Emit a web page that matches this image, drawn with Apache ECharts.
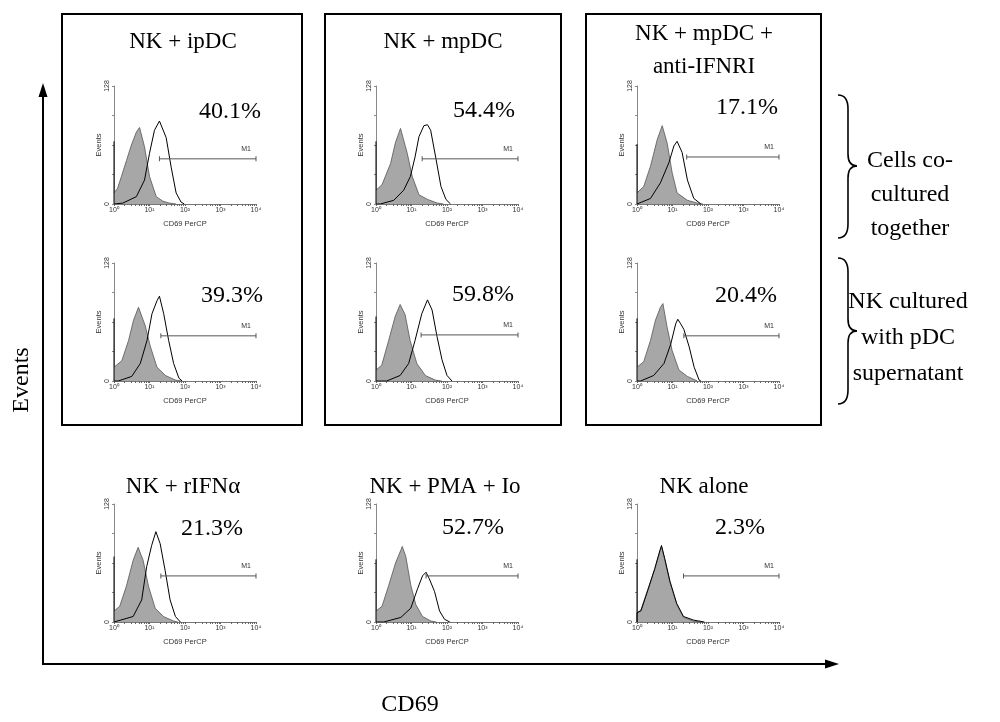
<!DOCTYPE html>
<html>
<head>
<meta charset="utf-8">
<script src="https://cdn.jsdelivr.net/npm/echarts@6/dist/echarts.min.js"></script>
<style>html,body{margin:0;padding:0;background:#fff;}#c{width:1000px;height:722px;}</style>
</head>
<body>
<div id="c"></div>
<script>
// ---- data (x in log10 decades of CD69 PerCP, y = events) ----
const xTickLabels = ['10\u2070', '10\u00b9', '10\u00b2', '10\u00b3', '10\u2074'];
const panelTitles = ['NK + ipDC', 'NK + mpDC', 'NK + mpDC +\nanti-IFNRI', '', '', '', 'NK + rIFN\u03b1', 'NK + PMA + Io', 'NK alone'];
const percentLabels = ['40.1%', '54.4%', '17.1%', '39.3%', '59.8%', '20.4%', '21.3%', '52.7%', '2.3%'];
const groupLabels = ['Cells co-\ncultured\ntogether', 'NK cultured\nwith pDC\nsupernatant'];

const ctrl1 = [[0,12],[0.1,17],[0.21,30],[0.35,47],[0.49,64],[0.63,78],[0.72,83],[0.86,62],[1.0,30],[1.19,8],[1.38,3],[1.56,1],[1.75,0]];
const samp1 = [[0,68],[0,0],[0.25,1],[0.63,8],[0.86,26],[1.0,55],[1.14,80],[1.28,90],[1.33,92],[1.47,72],[1.61,40],[1.75,12],[1.89,2],[1.98,0]];
const ctrl2 = [[0,15],[0.17,21],[0.41,44],[0.55,67],[0.69,82],[0.74,84],[0.88,55],[1.02,30],[1.21,10],[1.45,5],[1.73,1],[1.9,0]];
const samp2 = [[0,68],[0,0],[0.12,0],[0.5,4],[0.78,15],[0.97,30],[1.1,51],[1.21,73],[1.35,85],[1.45,86],[1.54,80],[1.68,51],[1.83,19],[1.97,5],[2.1,0]];
const ctrl3 = [[0,12],[0.19,19],[0.38,41],[0.57,70],[0.71,85],[0.74,86],[0.85,66],[0.99,34],[1.13,12],[1.42,4],[1.7,1],[1.85,0]];
const samp3 = [[0,65],[0,0],[0.05,0],[0.38,6],[0.66,23],[0.9,45],[1.04,63],[1.13,68],[1.16,69],[1.27,56],[1.42,26],[1.6,6],[1.8,0]];
const ctrl4 = [[0,15],[0.22,22],[0.41,44],[0.55,66],[0.69,80],[0.74,82],[0.88,60],[1.02,38],[1.21,15],[1.45,6],[1.73,1],[1.9,0]];
const samp4 = [[0,68],[0,0],[0.12,0],[0.5,5],[0.74,19],[0.93,44],[1.07,73],[1.21,87],[1.28,92],[1.4,73],[1.54,44],[1.68,19],[1.83,3],[1.92,0]];
const ctrl5 = [[0,12],[0.16,17],[0.35,43],[0.54,70],[0.68,83],[0.73,85],[0.82,72],[0.96,44],[1.15,19],[1.39,6],[1.67,1],[1.85,0]];
const samp5 = [[0,70],[0,0],[0.3,0],[0.68,6],[0.92,19],[1.1,44],[1.29,73],[1.45,88],[1.48,89],[1.58,77],[1.72,48],[1.86,23],[2.0,6],[2.14,0]];
const ctrl6 = [[0,15],[0.19,21],[0.38,44],[0.52,66],[0.66,80],[0.73,84],[0.85,58],[0.99,33],[1.18,12],[1.42,5],[1.7,0]];
const samp6 = [[0,68],[0,0],[0.1,0],[0.47,6],[0.76,19],[0.95,40],[1.09,62],[1.15,67],[1.23,62],[1.32,56],[1.47,37],[1.61,15],[1.75,1],[1.8,0]];
const ctrl7 = [[0,12],[0.16,17],[0.35,39],[0.54,67],[0.68,81],[0.71,83],[0.82,67],[0.97,39],[1.16,15],[1.39,6],[1.68,1],[1.8,0]];
const samp7 = [[0,71],[0,0],[0.05,0],[0.54,6],[0.78,24],[0.92,60],[1.06,83],[1.18,98],[1.3,85],[1.44,56],[1.58,24],[1.73,6],[1.87,0]];
const ctrl8 = [[0,12],[0.17,17],[0.36,40],[0.55,64],[0.7,78],[0.74,82],[0.84,71],[0.98,40],[1.12,19],[1.31,6],[1.55,1],[1.7,0]];
const samp8 = [[0,68],[0,0],[0.22,0],[0.7,5],[0.98,15],[1.17,36],[1.31,50],[1.41,54],[1.5,47],[1.65,33],[1.79,12],[1.93,3],[2.08,0]];
const ctrl9 = [[0,10],[0.11,13],[0.31,36],[0.5,57],[0.64,76],[0.69,82],[0.78,68],[0.93,43],[1.12,19],[1.31,5],[1.6,1],[1.79,0]];
const samp9 = [[0,68],[0,0],[0,10],[0.11,12],[0.31,35],[0.5,58],[0.64,77],[0.69,83],[0.78,69],[0.93,44],[1.12,20],[1.31,6],[1.6,2],[1.9,0]];

const controls = [ctrl1, ctrl2, ctrl3, ctrl4, ctrl5, ctrl6, ctrl7, ctrl8, ctrl9];
const samples = [samp1, samp2, samp3, samp4, samp5, samp6, samp7, samp8, samp9];
// M1 gate: start decade and height in events
const m1Start = [1.28, 1.3, 1.4, 1.32, 1.27, 1.32, 1.32, 1.41, 1.31];
const m1Level = [49, 49, 51, 49, 50, 49, 50, 50, 50];
const m1End = 4;

// ---- layout ----
const colX = [114, 376, 637];
const rowY = [86, 263, 504];
const gw = 142, gh = 118;
const pctPos = [[230,112],[484,111],[747,108],[232,296],[483,295],[746,296],[212,529],[473,528],[740,528]];
const titlePos = [[183,42],[443,42],[704,50],null,null,null,[183,487],[445,487],[704,487]];

// log minor tick positions within decades
const minorTicks = [];
for (let d = 0; d < 4; d++) { for (let k = 1; k < 10; k++) minorTicks.push(d + Math.log10(k)); }
minorTicks.push(4);

const grids = [], xAxes = [], yAxes = [], series = [];
const smallFont = 'Liberation Sans';
for (let i = 0; i < 9; i++) {
  const c = i % 3, r = Math.floor(i / 3);
  grids.push({ left: colX[c], top: rowY[r], width: gw, height: gh });
  xAxes.push({
    type: 'value', gridIndex: i, min: 0, max: 4, interval: 1,
    axisLine: { show: true, lineStyle: { color: '#777', width: 1 } },
    axisTick: { show: true, length: 2, customValues: minorTicks, lineStyle: { color: '#666' } },
    axisLabel: { fontSize: 7, color: '#333', margin: 3, fontFamily: smallFont, formatter: v => xTickLabels[Math.round(v)] },
    splitLine: { show: false },
    name: 'CD69 PerCP', nameLocation: 'middle', nameGap: 16,
    nameTextStyle: { fontSize: 7.5, color: '#333', fontFamily: smallFont }
  });
  yAxes.push({
    type: 'value', gridIndex: i, min: 0, max: 128, interval: 32,
    axisLine: { show: true, lineStyle: { color: '#888', width: 1 } },
    axisTick: { show: true, length: 2, lineStyle: { color: '#888' } },
    axisLabel: { rotate: 90, fontSize: 7, color: '#333', margin: 3, fontFamily: smallFont,
      formatter: v => (v === 0 || v === 128) ? String(v) : '' },
    splitLine: { show: false },
    name: 'Events', nameLocation: 'middle', nameGap: 11,
    nameTextStyle: { fontSize: 7.5, color: '#333', fontFamily: smallFont }
  });
  series.push({
    type: 'line', xAxisIndex: i, yAxisIndex: i, data: controls[i], symbol: 'none', z: 2,
    lineStyle: { color: '#555', width: 0.8 }, areaStyle: { color: '#a7a7a7', opacity: 1 }
  });
  series.push({
    type: 'line', xAxisIndex: i, yAxisIndex: i, data: samples[i], symbol: 'none', z: 3,
    lineStyle: { color: '#000', width: 1 }
  });
  series.push({
    type: 'line', xAxisIndex: i, yAxisIndex: i, z: 4, symbol: 'rect', symbolSize: [1, 5],
    itemStyle: { color: '#555' }, lineStyle: { color: '#555', width: 1 },
    data: [
      { value: [m1Start[i], m1Level[i]] },
      { value: [m1End, m1Level[i]], label: { show: true, position: 'top', formatter: 'M1', fontSize: 7, color: '#333', fontFamily: smallFont, offset: [-10, 1] } }
    ]
  });
}

const serif = 'Liberation Serif';
const graphics = [];
// boxes
[[62, 14, 240, 411], [325, 14, 236, 411], [586, 14, 235, 411]].forEach(b => {
  graphics.push({ type: 'rect', shape: { x: b[0], y: b[1], width: b[2], height: b[3] }, style: { fill: 'none', stroke: '#000', lineWidth: 2 } });
});
// titles
panelTitles.forEach((t, i) => {
  if (!t) return;
  graphics.push({ type: 'text', x: titlePos[i][0], y: titlePos[i][1],
    style: { text: t, font: '23px "' + serif + '"', fill: '#000', textAlign: 'center', textVerticalAlign: 'middle', lineHeight: 33 } });
});
percentLabels.forEach((t, i) => {
  graphics.push({ type: 'text', x: pctPos[i][0], y: pctPos[i][1],
    style: { text: t, font: '24px "' + serif + '"', fill: '#000', textAlign: 'center', textVerticalAlign: 'middle' } });
});
// big axes
graphics.push({ type: 'line', shape: { x1: 43, y1: 665, x2: 43, y2: 94 }, style: { stroke: '#000', lineWidth: 2 } });
graphics.push({ type: 'polygon', shape: { points: [[43, 83], [38.5, 97], [47.5, 97]] }, style: { fill: '#000' } });
graphics.push({ type: 'line', shape: { x1: 42, y1: 664, x2: 828, y2: 664 }, style: { stroke: '#000', lineWidth: 2 } });
graphics.push({ type: 'polygon', shape: { points: [[839, 664], [825, 659.5], [825, 668.5]] }, style: { fill: '#000' } });
graphics.push({ type: 'text', x: 22, y: 380, rotation: Math.PI / 2,
  style: { text: 'Events', font: '24px "' + serif + '"', fill: '#000', textAlign: 'center', textVerticalAlign: 'middle' } });
graphics.push({ type: 'text', x: 410, y: 705,
  style: { text: 'CD69', font: '24px "' + serif + '"', fill: '#000', textAlign: 'center', textVerticalAlign: 'middle' } });
// braces built from quadratic curves and straight segments
function brace(top, bottom, mid) {
  const xl = 838, xm = 848, xt = 857, st = { stroke: '#000', lineWidth: 1.6, fill: 'none' };
  return [
    { type: 'bezierCurve', shape: { x1: xl, y1: top, cpx1: xm, cpy1: top, x2: xm, y2: top + 14 }, style: st },
    { type: 'line', shape: { x1: xm, y1: top + 14, x2: xm, y2: mid - 12 }, style: st },
    { type: 'bezierCurve', shape: { x1: xm, y1: mid - 12, cpx1: xm, cpy1: mid, x2: xt, y2: mid }, style: st },
    { type: 'bezierCurve', shape: { x1: xt, y1: mid, cpx1: xm, cpy1: mid, x2: xm, y2: mid + 12 }, style: st },
    { type: 'line', shape: { x1: xm, y1: mid + 12, x2: xm, y2: bottom - 14 }, style: st },
    { type: 'bezierCurve', shape: { x1: xm, y1: bottom - 14, cpx1: xm, cpy1: bottom, x2: xl, y2: bottom }, style: st }
  ];
}
brace(95, 238, 166).forEach(g => graphics.push(g));
brace(258, 404, 331).forEach(g => graphics.push(g));
graphics.push({ type: 'text', x: 910, y: 195,
  style: { text: groupLabels[0], font: '24px "' + serif + '"', fill: '#000', textAlign: 'center', textVerticalAlign: 'middle', lineHeight: 34 } });
graphics.push({ type: 'text', x: 908, y: 338,
  style: { text: groupLabels[1], font: '24px "' + serif + '"', fill: '#000', textAlign: 'center', textVerticalAlign: 'middle', lineHeight: 36 } });

const chart = echarts.init(document.getElementById('c'));
chart.setOption({
  animation: false,
  backgroundColor: '#fff',
  grid: grids, xAxis: xAxes, yAxis: yAxes, series: series,
  graphic: { elements: graphics }
});
</script>
</body>
</html>
